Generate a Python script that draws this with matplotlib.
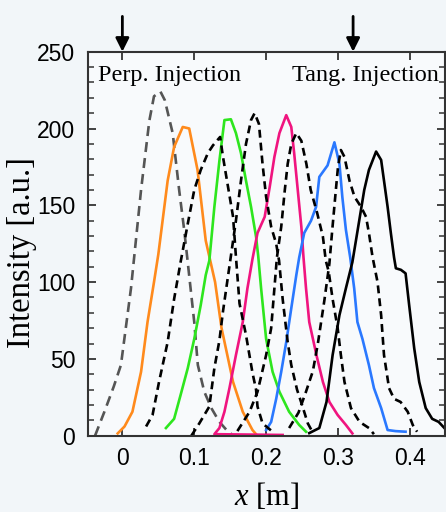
import matplotlib
matplotlib.use('Agg')
import matplotlib.pyplot as plt
from matplotlib.ticker import MultipleLocator

plt.rcParams['font.family'] = ['Liberation Sans', 'DejaVu Sans']
plt.rcParams['mathtext.fontset'] = 'custom'
plt.rcParams['mathtext.rm'] = 'Liberation Serif'
plt.rcParams['mathtext.it'] = 'Liberation Serif:italic'

# intensity profiles
gray_x = [-0.038, -0.025, -0.012, -0.002, 0.012, 0.026, 0.0375, 0.044, 0.053, 0.059, 0.070,
          0.079, 0.086, 0.090, 0.100, 0.105, 0.114, 0.124, 0.135, 0.147, 0.152]
gray_y = [0, 15.6, 32, 46, 96, 160, 205, 221, 224, 218.5, 197, 160, 134, 117, 74, 46, 28.6,
          17.8, 9, 2.6, 1]

orange_x = [-0.0065, 0.003, 0.014, 0.026, 0.035, 0.044, 0.050, 0.063, 0.072, 0.084, 0.093,
            0.1046, 0.116, 0.129, 0.138, 0.154, 0.1675, 0.181, 0.186]
orange_y = [1.5, 6, 15.6, 41.6, 74, 100, 118, 166, 188, 201, 200, 173, 127, 100, 70, 35, 15.6,
            3.7, 1]

dash1_x = [0.033, 0.042, 0.051, 0.063, 0.072, 0.081, 0.091, 0.100, 0.109, 0.119, 0.126, 0.136,
           0.140, 0.147, 0.154, 0.156, 0.158, 0.163, 0.172, 0.181, 0.186, 0.188, 0.195, 0.209]
dash1_y = [6, 13.5, 35, 61, 89, 113, 138, 160, 173, 184, 189, 194.5, 181.5, 162, 142.5, 129.5,
           116.5, 86, 65.5, 41, 30, 19, 8, 2.6]

green_x = [0.0606, 0.072, 0.081, 0.091, 0.100, 0.109, 0.116, 0.121, 0.128, 0.135, 0.142, 0.151,
           0.158, 0.165, 0.172, 0.179, 0.186, 0.189, 0.193, 0.200, 0.209, 0.2185, 0.232, 0.246,
           0.2555]
green_y = [5, 11, 26.5, 44, 63, 85, 104.6, 114, 149, 179, 205.5, 206, 197, 184, 166, 149, 129.5,
           117, 96, 63, 41.6, 28.6, 15.6, 7, 2.6]

dash2_x = [0.096, 0.107, 0.121, 0.128, 0.135, 0.140, 0.151, 0.158, 0.165, 0.172, 0.179, 0.184,
           0.190, 0.195, 0.200, 0.207, 0.214, 0.218, 0.223, 0.230, 0.235, 0.243, 0.250, 0.258,
           0.265]
dash2_y = [0, 8, 19, 44, 62, 81, 117, 140, 166, 190, 205.5, 210, 203, 177, 155.5, 136, 125, 114,
           89, 61, 46, 30, 20, 8, 2]

pink_x = [0.223, 0.128, 0.135, 0.142, 0.149, 0.158, 0.1675, 0.174, 0.181, 0.188, 0.198, 0.205,
          0.2115, 0.2185, 0.228, 0.235, 0.239, 0.244, 0.249, 0.252, 0.2555, 0.26, 0.27, 0.279,
          0.288, 0.2995, 0.311, 0.32]
pink_y = [0.5, 1, 5, 15.6, 31, 52.5, 74, 96, 115, 132, 142.5, 162, 181.5, 197, 208.7, 201, 184,
          160, 136, 116, 96, 74, 52.5, 35, 22, 13.5, 7, 1.5]

dash3_x = [0.160, 0.177, 0.188, 0.200, 0.207, 0.215, 0.221, 0.226, 0.230, 0.235, 0.242, 0.249,
           0.256, 0.262, 0.271, 0.279, 0.283, 0.287, 0.2925, 0.2995, 0.304, 0.309, 0.318, 0.330,
           0.343, 0.350]
dash3_y = [3, 15.6, 28.6, 52.5, 70, 116, 136, 160, 177, 190, 197, 192, 177, 160, 145, 129.5, 114,
           107, 89, 70, 52.5, 35, 18, 9, 5, 1]

blue_x = [0.200, 0.207, 0.214, 0.221, 0.228, 0.235, 0.242, 0.246, 0.253, 0.2625, 0.2695, 0.274,
          0.2855, 0.295, 0.302, 0.306, 0.311, 0.317, 0.3225, 0.327, 0.334, 0.343, 0.350, 0.360,
          0.369, 0.380, 0.394]
blue_y = [3.7, 9, 24, 41.6, 61, 83, 104.6, 116, 132, 140, 149, 168.5, 176, 191, 177, 155.5, 134,
          116, 96, 74, 63, 46, 31, 18, 3.7, 3, 2.6]

dash4_x = [0.232, 0.245, 0.255, 0.265, 0.272, 0.281, 0.288, 0.292, 0.297, 0.300, 0.304, 0.309,
           0.316, 0.323, 0.332, 0.339, 0.343, 0.348, 0.355, 0.360, 0.364, 0.371, 0.378, 0.387,
           0.397, 0.404, 0.410]
dash4_y = [5, 15, 28, 42, 60, 88, 112, 134, 160, 175, 186, 181.5, 166, 155.5, 149, 142.5, 132,
           116.5, 100, 78.5, 52.5, 31, 24, 22, 15.6, 7, 2.6]

black_x = [0.260, 0.274, 0.284, 0.2925, 0.302, 0.311, 0.320, 0.3295, 0.3365, 0.343, 0.353, 0.360,
           0.364, 0.369, 0.3735, 0.378, 0.3805, 0.3875, 0.394, 0.399, 0.406, 0.413, 0.422, 0.431,
           0.440, 0.448]
black_y = [1.7, 5, 22, 52.5, 78.5, 96, 113, 140, 160, 173, 185, 179.5, 166, 149, 132, 116, 109,
           108, 105.7, 85, 57, 35, 18, 11, 9, 5]

arrow_x = [0.0, 0.321]
x_ticks = [0, 0.1, 0.2, 0.3, 0.4]
x_ticklabels = ['0', '0.1', '0.2', '0.3', '0.4']
y_ticks = [0, 50, 100, 150, 200, 250]

fig = plt.figure(figsize=(4.46, 5.12), dpi=100, facecolor='#f2f6f9')
ax = fig.add_axes([0.197, 0.149, 0.801, 0.750])
ax.set_facecolor('#f8fafc')

lw = 1.9
ax.plot(gray_x, gray_y, color='#555555', lw=lw, dashes=(3.8, 2.3))
ax.plot(orange_x, orange_y, color='#ff8a1c', lw=lw)
ax.plot(green_x, green_y, color='#2ee61e', lw=lw)
ax.plot(pink_x, pink_y, color='#f0147f', lw=lw)
ax.plot(blue_x, blue_y, color='#2a78ff', lw=lw)
ax.plot(black_x, black_y, color='black', lw=lw)
for xs, ys in [(dash1_x, dash1_y), (dash2_x, dash2_y), (dash3_x, dash3_y), (dash4_x, dash4_y)]:
    ax.plot(xs, ys, color='black', lw=lw, dashes=(3.0, 1.9))

ax.set_xlim(-0.048, 0.449)
ax.set_ylim(0, 250)
ax.set_xticks(x_ticks)
ax.set_xticklabels(x_ticklabels)
ax.set_yticks(y_ticks)
ax.yaxis.set_minor_locator(MultipleLocator(10))
ax.tick_params(which='both', direction='in', top=True, right=True, color='#333333',
               labelsize=16.5)
ax.tick_params(axis='y', pad=9)
ax.tick_params(axis='x', pad=8)
ax.tick_params(which='major', length=6, width=1.3)
ax.tick_params(which='minor', length=4, width=1.1)
for sp in ax.spines.values():
    sp.set_color('#333333')
    sp.set_linewidth(1.5)

ax.set_ylabel('Intensity [a.u.]', family='Liberation Serif', fontsize=23.5)
ax.set_xlabel('$x$ [m]', family='Liberation Serif', fontsize=22)
ax.yaxis.set_label_coords(-0.142, 0.477)
ax.xaxis.set_label_coords(0.5, -0.118)

ax.text(0.028, 0.924, 'Perp. Injection', transform=ax.transAxes, family='Liberation Serif',
        fontsize=17.5, va='baseline', ha='left')
ax.text(0.983, 0.924, 'Tang. Injection', transform=ax.transAxes, family='Liberation Serif',
        fontsize=17.5, va='baseline', ha='right')

for xa in arrow_x:
    ax.annotate('', xy=(xa, 250), xytext=(xa, 273), annotation_clip=False,
                arrowprops=dict(arrowstyle='-|>', color='black', lw=2, mutation_scale=20,
                                shrinkA=0, shrinkB=0))

fig.savefig('out.png', dpi=100, facecolor=fig.get_facecolor())
